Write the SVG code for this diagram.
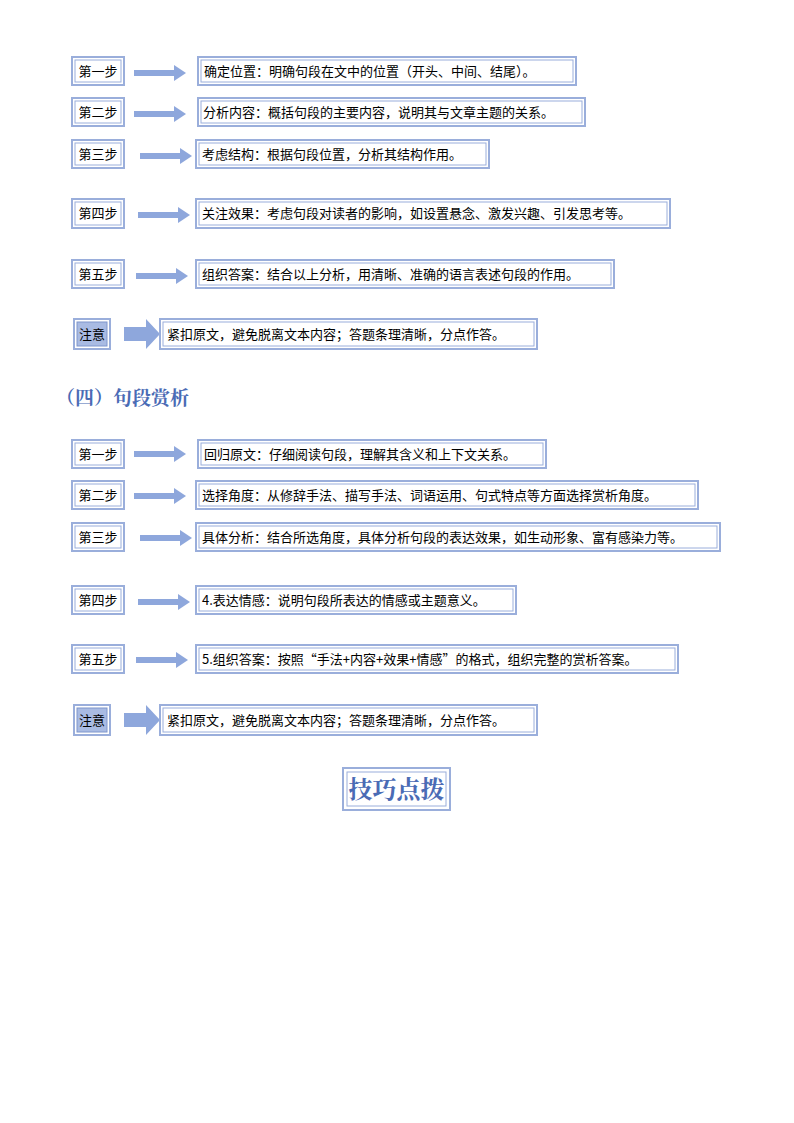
<svg xmlns="http://www.w3.org/2000/svg" width="794" height="1123" viewBox="0 0 794 1123">
<style>
.o{fill:#fff;stroke:#9aaedb;stroke-width:2}
.i{fill:#fff;stroke:#9aaedb;stroke-width:1}
.t{font-family:"Noto Sans CJK SC","Liberation Serif",serif;font-size:13px;fill:#000}
.a{fill:#8ea7dc}
.h{font-family:"Noto Serif CJK SC","Noto Sans CJK SC",serif;font-weight:bold;fill:#4a6bb5}
</style>
<defs>
<symbol id="arr" viewBox="0 0 52 16"><path class="a" d="M0 5H40V0L52 8L40 16V11H0Z"/></symbol>
<symbol id="fat" viewBox="0 0 36 30"><path class="a" d="M0 8H22V0L36 15L22 30V22H0Z"/></symbol>
</defs>
<rect width="794" height="1123" fill="#fff"/>
<g id="connectors">
<use href="#arr" x="134" y="65" width="52" height="16"/>
<use href="#arr" x="134" y="106" width="52" height="16"/>
<use href="#arr" x="140" y="148" width="52" height="16"/>
<use href="#arr" x="138" y="207" width="52" height="16"/>
<use href="#arr" x="136" y="268" width="52" height="16"/>
<use href="#fat" x="124" y="319" width="36" height="30"/>
<use href="#arr" x="134" y="446" width="52" height="16"/>
<use href="#arr" x="134" y="488" width="52" height="16"/>
<use href="#arr" x="140" y="530" width="52" height="16"/>
<use href="#arr" x="138" y="594" width="52" height="16"/>
<use href="#arr" x="136" y="652" width="52" height="16"/>
<use href="#fat" x="124" y="705" width="36" height="30"/>
</g>
<g id="s1">
<g id="n1"><rect class="o" x="72" y="57" width="52" height="28"/><rect class="i" x="75" y="60" width="46" height="22"/><text class="t" x="98" y="76" text-anchor="middle">第一步</text></g>
<g id="b1"><rect class="o" x="198" y="57" width="378" height="28"/><rect class="i" x="201" y="60" width="372" height="22"/><text class="t" x="204" y="76">确定位置：明确句段在文中的位置（开头、中间、结尾）。</text></g>
<g id="n2"><rect class="o" x="72" y="98" width="52" height="28"/><rect class="i" x="75" y="101" width="46" height="22"/><text class="t" x="98" y="117" text-anchor="middle">第二步</text></g>
<g id="b2"><rect class="o" x="198" y="98" width="387" height="28"/><rect class="i" x="201" y="101" width="381" height="22"/><text class="t" x="203" y="117">分析内容：概括句段的主要内容，说明其与文章主题的关系。</text></g>
<g id="n3"><rect class="o" x="72" y="140" width="52" height="28"/><rect class="i" x="75" y="143" width="46" height="22"/><text class="t" x="98" y="159" text-anchor="middle">第三步</text></g>
<g id="b3"><rect class="o" x="196" y="140" width="293" height="28"/><rect class="i" x="199" y="143" width="287" height="22"/><text class="t" x="202" y="159">考虑结构：根据句段位置，分析其结构作用。</text></g>
<g id="n4"><rect class="o" x="72" y="199" width="52" height="29"/><rect class="i" x="75" y="202" width="46" height="23"/><text class="t" x="98" y="218" text-anchor="middle">第四步</text></g>
<g id="b4"><rect class="o" x="196" y="199" width="474" height="29"/><rect class="i" x="199" y="202" width="468" height="23"/><text class="t" x="202" y="218">关注效果：考虑句段对读者的影响，如设置悬念、激发兴趣、引发思考等。</text></g>
<g id="n5"><rect class="o" x="72" y="260" width="52" height="28"/><rect class="i" x="75" y="263" width="46" height="22"/><text class="t" x="98" y="279" text-anchor="middle">第五步</text></g>
<g id="b5"><rect class="o" x="196" y="260" width="418" height="28"/><rect class="i" x="199" y="263" width="412" height="22"/><text class="t" x="202" y="279">组织答案：结合以上分析，用清晰、准确的语言表述句段的作用。</text></g>
<g id="n6"><rect class="o" x="74" y="319" width="36" height="30"/><rect x="77" y="322" width="30" height="24" fill="#a9bbe3" stroke="#7f96cc"/><text class="t" x="92" y="339" text-anchor="middle">注意</text></g>
<g id="b6"><rect class="o" x="160" y="319" width="377" height="30"/><rect class="i" x="163" y="322" width="371" height="24"/><text class="t" x="167" y="339">紧扣原文，避免脱离文本内容；答题条理清晰，分点作答。</text></g>
</g>
<text class="h" x="56" y="405" font-size="19">（四）句段赏析</text>
<g id="s2">
<g id="m1"><rect class="o" x="72" y="440" width="52" height="28"/><rect class="i" x="75" y="443" width="46" height="22"/><text class="t" x="98" y="459" text-anchor="middle">第一步</text></g>
<g id="c1"><rect class="o" x="198" y="440" width="348" height="28"/><rect class="i" x="201" y="443" width="342" height="22"/><text class="t" x="204" y="459">回归原文：仔细阅读句段，理解其含义和上下文关系。</text></g>
<g id="m2"><rect class="o" x="72" y="481" width="52" height="28"/><rect class="i" x="75" y="484" width="46" height="22"/><text class="t" x="98" y="500" text-anchor="middle">第二步</text></g>
<g id="c2"><rect class="o" x="196" y="481" width="502" height="28"/><rect class="i" x="199" y="484" width="496" height="22"/><text class="t" x="202" y="500">选择角度：从修辞手法、描写手法、词语运用、句式特点等方面选择赏析角度。</text></g>
<g id="m3"><rect class="o" x="72" y="523" width="52" height="28"/><rect class="i" x="75" y="526" width="46" height="22"/><text class="t" x="98" y="542" text-anchor="middle">第三步</text></g>
<g id="c3"><rect class="o" x="196" y="523" width="524" height="28"/><rect class="i" x="199" y="526" width="518" height="22"/><text class="t" x="202" y="542">具体分析：结合所选角度，具体分析句段的表达效果，如生动形象、富有感染力等。</text></g>
<g id="m4"><rect class="o" x="72" y="586" width="52" height="28"/><rect class="i" x="75" y="589" width="46" height="22"/><text class="t" x="98" y="605" text-anchor="middle">第四步</text></g>
<g id="c4"><rect class="o" x="196" y="586" width="320" height="28"/><rect class="i" x="199" y="589" width="314" height="22"/><text class="t" x="202" y="605">4.表达情感：说明句段所表达的情感或主题意义。</text></g>
<g id="m5"><rect class="o" x="72" y="645" width="52" height="28"/><rect class="i" x="75" y="648" width="46" height="22"/><text class="t" x="98" y="664" text-anchor="middle">第五步</text></g>
<g id="c5"><rect class="o" x="196" y="645" width="482" height="28"/><rect class="i" x="199" y="648" width="476" height="22"/><text class="t" x="202" y="664">5.组织答案：按照“手法+内容+效果+情感”的格式，组织完整的赏析答案。</text></g>
<g id="m6"><rect class="o" x="74" y="705" width="36" height="30"/><rect x="77" y="708" width="30" height="24" fill="#a9bbe3" stroke="#7f96cc"/><text class="t" x="92" y="725" text-anchor="middle">注意</text></g>
<g id="c6"><rect class="o" x="160" y="705" width="377" height="30"/><rect class="i" x="163" y="708" width="371" height="24"/><text class="t" x="167" y="725">紧扣原文，避免脱离文本内容；答题条理清晰，分点作答。</text></g>
</g>
<g id="title"><rect class="o" x="343" y="768" width="107" height="42"/><rect class="i" x="347" y="772" width="99" height="34"/><text class="h" x="396.500" y="798" font-size="24" font-weight="normal" text-anchor="middle">技巧点拨</text></g>
</svg>
